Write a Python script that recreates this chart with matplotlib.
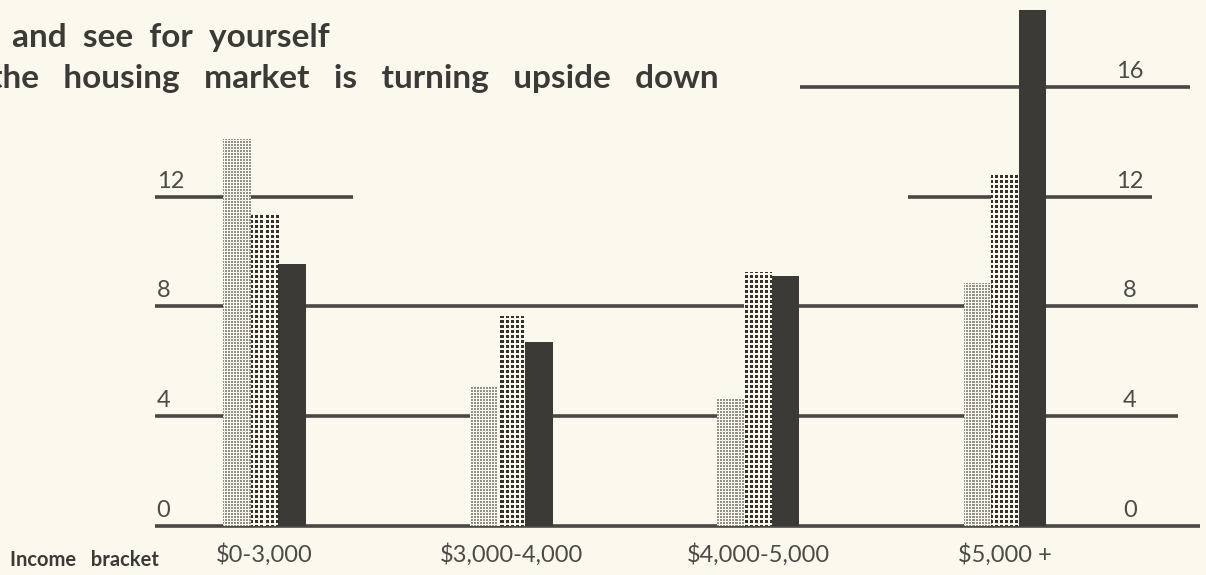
import numpy as np
import matplotlib
matplotlib.use("Agg")
import matplotlib.pyplot as plt

# --- data -----------------------------------------------------------------
brackets = ["$0-3,000", "$3,000-4,000", "$4,000-5,000", "$5,000 +"]
series_light = [14.1, 5.1, 4.65, 8.85]     # fine-screen bars
series_medium = [11.4, 7.65, 9.25, 12.85]  # coarse-screen bars
series_dark = [9.55, 6.7, 9.1, 18.8]       # solid bars
left_ticks = [0, 4, 8, 12]
right_ticks = [0, 4, 8, 12, 16]

# --- style ----------------------------------------------------------------
BG = "#fbf9ee"
INK = "#3c3a37"
LINE = "#4a4744"
NUM = "#4d4a47"
W, H, DPI = 1206, 575, 100

fig = plt.figure(figsize=(W / DPI, H / DPI), dpi=DPI, facecolor=BG)
ax = fig.add_axes([0, 0, 1, 1])
ax.set_facecolor(BG)
ax.set_axis_off()

XMIN, XMAX = -1.0717, 3.8148
YMIN, YMAX = -1.786, 19.17
ax.set_xlim(XMIN, XMAX)
ax.set_ylim(YMIN, YMAX)

# horizontal rules, broken as on the printed page
rules = [
    (0, -0.444, 3.790),
    (4, -0.444, 3.701),
    (8, -0.444, 3.782),
    (12, -0.444, 0.359),
    (12, 2.607, 3.596),
    (16, 2.170, 3.750),
]
for yv, x0, x1 in rules:
    ax.plot([x0, x1], [yv, yv], color=LINE, lw=2.6, solid_capstyle="butt",
            zorder=1)

# --- bars -----------------------------------------------------------------
x = np.arange(len(brackets))
bw = 0.1114
light = ax.bar(x - bw, series_light, bw, color=BG, zorder=2, linewidth=0)
medium = ax.bar(x, series_medium, bw, color=BG, zorder=2, linewidth=0)
dark = ax.bar(x + bw, series_dark, bw, color=INK, zorder=2, linewidth=0)


def dot_screen(period, dot, rgb):
    """Square halftone screen in device pixels."""
    yy, xx = np.mgrid[0:H, 0:W]
    on = ((xx % period) < dot) & ((yy % period) < dot)
    img = np.zeros((H, W, 4))
    img[..., :3] = rgb
    img[..., 3] = on.astype(float)
    return img


screens = [
    (light, dot_screen(3, 2, (0.58, 0.57, 0.55))),
    (medium, dot_screen(5, 3, (0.20, 0.19, 0.18))),
]
for bars, tex in screens:
    for patch in bars:
        im = ax.imshow(tex, extent=(XMIN, XMAX, YMIN, YMAX), origin="upper",
                       interpolation="nearest", aspect="auto", zorder=3)
        im.set_clip_path(patch)
ax.set_xlim(XMIN, XMAX)
ax.set_ylim(YMIN, YMAX)

# --- scale figures ----------------------------------------------------------
num_font = dict(family=["Lato", "DejaVu Sans"], fontweight="normal",
                color=NUM)
for t in left_ticks:
    ax.text(-0.437, t + 0.33, str(t), ha="left", va="baseline", fontsize=17,
            **num_font)
for t in right_ticks:
    ax.text(3.506, t + 0.33, str(t), ha="center", va="baseline", fontsize=17,
            **num_font)

# --- category labels ------------------------------------------------------
for xi, lab in zip(x, brackets):
    ax.text(xi, -1.31, lab, ha="center", va="baseline", fontsize=17,
            **num_font)
fig.text(10 / W, 1 - 566 / H, "Income   bracket", ha="left", va="baseline",
         fontsize=14.5, fontweight="bold", color=INK,
         family=["Lato", "DejaVu Sans"])

# --- headline ---------------------------------------------------------------
head = dict(family=["Lato", "DejaVu Sans"], fontweight="bold", color=INK,
            fontsize=24)
fig.text(12 / W, 1 - 47 / H, "and  see  for  yourself", ha="left",
         va="baseline", **head)
fig.text(-10 / W, 1 - 88 / H,
         "the   housing   market   is   turning   upside   down",
         ha="left", va="baseline", **head)

fig.savefig("out.png", dpi=DPI, facecolor=BG)
